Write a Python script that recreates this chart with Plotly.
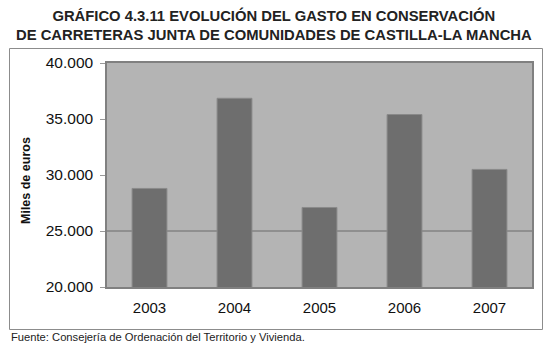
import plotly.graph_objects as go

years = ["2003", "2004", "2005", "2006", "2007"]
gasto = [28800, 36850, 27100, 35400, 30500]
y_ticks = [20000, 25000, 30000, 35000, 40000]

W, H = 550, 353
L, R, T, B = 107, 18, 63, 66
FONT = "Arial, Liberation Sans, sans-serif"

fig = go.Figure()
fig.add_trace(go.Bar(
    x=years, y=gasto,
    marker=dict(color="#6e6e6e", line=dict(color="#8a8a8a", width=1)),
    width=0.41,
))

fig.add_shape(type="line", xref="paper", yref="y", x0=0, x1=1, y0=25000, y1=25000,
              line=dict(color="#6a6a6a", width=1), layer="below")

def px_x(p):
    return (p - L) / (W - L - R)

def px_y(p):
    return (H - B - p) / (H - T - B)

fig.add_shape(type="rect", xref="paper", yref="paper",
              x0=px_x(9.5), x1=px_x(542.5), y0=px_y(329.5), y1=px_y(48.5),
              line=dict(color="#8c8c8c", width=1), fillcolor="rgba(0,0,0,0)", layer="below")

fig.add_annotation(text="<b>GRÁFICO 4.3.11 EVOLUCIÓN DEL GASTO EN CONSERVACIÓN<br>DE CARRETERAS JUNTA DE COMUNIDADES DE CASTILLA-LA MANCHA</b>",
                   xref="paper", yref="paper", x=px_x(274), y=px_y(25), xanchor="center", yanchor="middle",
                   showarrow=False, font=dict(family=FONT, size=14.8, color="#222222"),
                   align="center")
fig.add_annotation(text="<b>Miles de euros</b>", xref="paper", yref="paper",
                   x=px_x(26), y=px_y(181), xanchor="center", yanchor="middle", textangle=-90,
                   showarrow=False, font=dict(family=FONT, size=12.5, color="#111111"))
fig.add_annotation(text="Fuente: Consejería de Ordenación del Territorio y Vivienda.",
                   xref="paper", yref="paper", x=px_x(9), y=px_y(337), xanchor="left", yanchor="middle",
                   showarrow=False, font=dict(family=FONT, size=11.2, color="#222222"))

fig.update_layout(
    width=W, height=H,
    margin=dict(l=L, r=R, t=T, b=B),
    paper_bgcolor="white",
    plot_bgcolor="#b4b4b4",
    separators=",.",
    showlegend=False,
    bargap=0.59,
    font=dict(family=FONT, color="#111111"),
)
fig.update_xaxes(showline=True, linecolor="#808080", mirror=True, linewidth=1.5,
                 ticks="", tickfont=dict(size=15), showgrid=False, ticklabelstandoff=6)
fig.update_yaxes(range=[20000, 40000], tickvals=y_ticks, tickformat=",d",
                 showgrid=False, zeroline=False,
                 showline=True, linecolor="#808080", mirror=True, linewidth=1.5,
                 ticks="outside", ticklen=5, tickcolor="#999999",
                 tickfont=dict(size=15.5), ticklabelstandoff=4)

fig.write_html("out.html")
